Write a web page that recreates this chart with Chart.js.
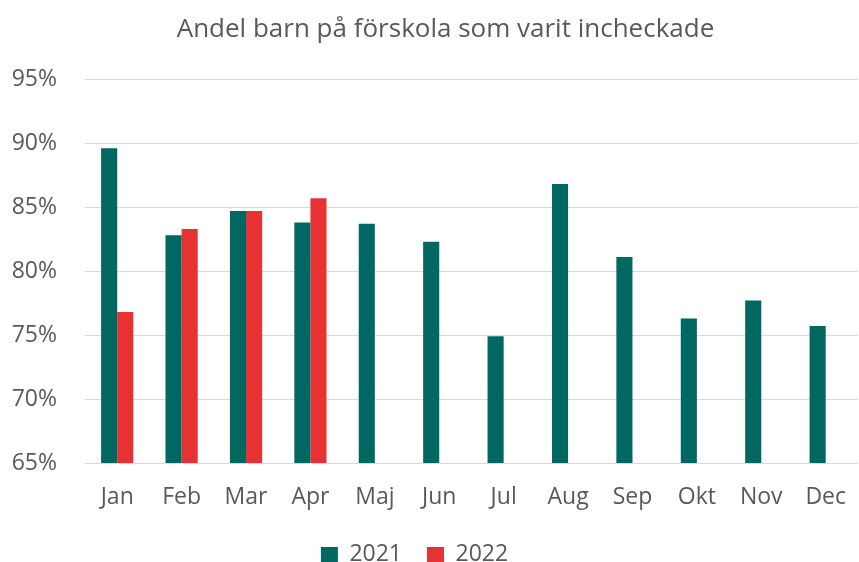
<!DOCTYPE html>
<html>
<head>
<meta charset="utf-8">
<script src="https://cdn.jsdelivr.net/npm/chart.js@4.4.1/dist/chart.umd.min.js"></script>
<style>
  html, body { margin:0; padding:0; background:#fff; }
  #wrap { width:859px; height:562px; }
</style>
</head>
<body>
<div id="wrap"><canvas id="chart"></canvas></div>
<script>
// månader
const months = ["Jan","Feb","Mar","Apr","Maj","Jun","Jul","Aug","Sep","Okt","Nov","Dec"];
// andel incheckade (%)
const values2021 = [89.6, 82.8, 84.7, 83.8, 83.7, 82.3, 74.9, 86.8, 81.1, 76.3, 77.7, 75.7];
const values2022 = [76.8, 83.3, 84.7, 85.7, null, null, null, null, null, null, null, null];
const yMin = 65, yMax = 95, yStep = 5;

const textColor = "#595959";
const fontFam = "'Open Sans', 'Noto Sans', sans-serif";

// flytta titel och förklaring lite i sidled (som i originalet)
const nudge = {
  id: "nudge",
  afterLayout(c){
    c.titleBlock.left += 22;
    c.legend.right -= 40;
  }
};

new Chart(document.getElementById("chart"), {
  type: "bar",
  data: {
    labels: months,
    datasets: [
      { label:"2021", data: values2021, backgroundColor:"#006860" },
      { label:"2022", data: values2022, backgroundColor:"#e63232" }
    ]
  },
  plugins: [nudge],
  options: {
    responsive: true,
    maintainAspectRatio: false,
    animation: false,
    layout: { padding:{ left:10, right:0, top:0, bottom:-14 } },
    datasets: { bar: { categoryPercentage:0.5, barPercentage:1.0 } },
    scales: {
      x: {
        grid: { display:false },
        border: { color:"#d9d9d9", width:1 },
        ticks: { color:textColor, font:{ family:fontFam, size:23 }, padding:13 },
        afterFit: s => { s.height = 55; }
      },
      y: {
        min: yMin, max: yMax,
        grid: { color:"#d9d9d9", lineWidth:1, drawTicks:false },
        border: { display:false },
        ticks: {
          stepSize: yStep, color:textColor, padding:28,
          font:{ family:fontFam, size:23 },
          callback: v => v + "%"
        },
        afterFit: s => { s.width = 75; }
      }
    },
    plugins: {
      title: {
        display: true,
        text: "Andel barn på förskola som varit incheckade",
        color: textColor,
        font: { family:fontFam, size:26, weight:"normal" },
        padding: { top:14, bottom:34 }
      },
      legend: {
        position: "bottom",
        labels: {
          color: textColor, boxWidth:17, boxHeight:15, padding:25,
          font:{ family:fontFam, size:23 }
        }
      },
      tooltip: { enabled:false }
    }
  }
});
</script>
</body>
</html>
